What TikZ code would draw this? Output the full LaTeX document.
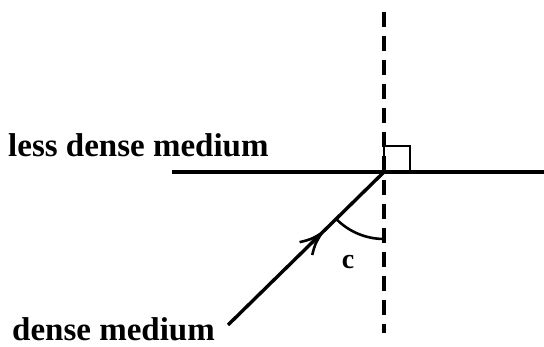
\documentclass[tikz,border=0pt]{standalone}
\usepackage{fontspec}
\setmainfont{Liberation Serif}
\usetikzlibrary{arrows.meta, decorations.markings}
\tikzset{
  bound/.style={line width=3.2pt},
  normal/.style={line width=3.2pt, dash pattern=on 15pt off 9pt},
  ray/.style={line width=3.4pt, postaction={decorate},
              decoration={markings, mark=at position 0.6 with
              {\draw[line width=2.6pt, line join=miter]
                (-22pt,9pt) .. controls (-12pt,3pt) .. (0pt,0pt)
                .. controls (-12pt,-3pt) .. (-22pt,-9pt);}}},
  ang/.style={line width=2.6pt},
  lab/.style={font=\fontsize{33}{36}\selectfont\bfseries, inner sep=0pt},
}

\begin{document}
\begin{tikzpicture}[x=1pt, y=1pt]
\path[use as bounding box] (0,0) rectangle (544,347);

% ---------- points ----------
\coordinate (hit) at (384,175);
\coordinate (ntop) at (384,335);
\coordinate (nbot) at (384,14);
\coordinate (sleft) at (172,175);
\coordinate (sright) at (544,175);
\coordinate (src) at (228,22);

% ---------- boundary, normal, ray ----------
\draw[bound] (sleft) -- (sright);
\draw[normal] (ntop) -- (nbot);
\draw[line width=2.2pt] (hit) rectangle ++(26,26);
\draw[ray] (src) -- (hit);
\draw[ang] (hit) ++(225:67) arc[start angle=225, end angle=270, radius=67];

% ---------- labels ----------
\node[lab, anchor=base west] (less) at (8,190) {less dense medium};
\node[lab, anchor=base west] (dense) at (12,6) {dense medium};
\node[font=\fontsize{28}{30}\selectfont\bfseries, inner sep=0pt] (c) at (348,85) {c};

\end{tikzpicture}
\end{document}
